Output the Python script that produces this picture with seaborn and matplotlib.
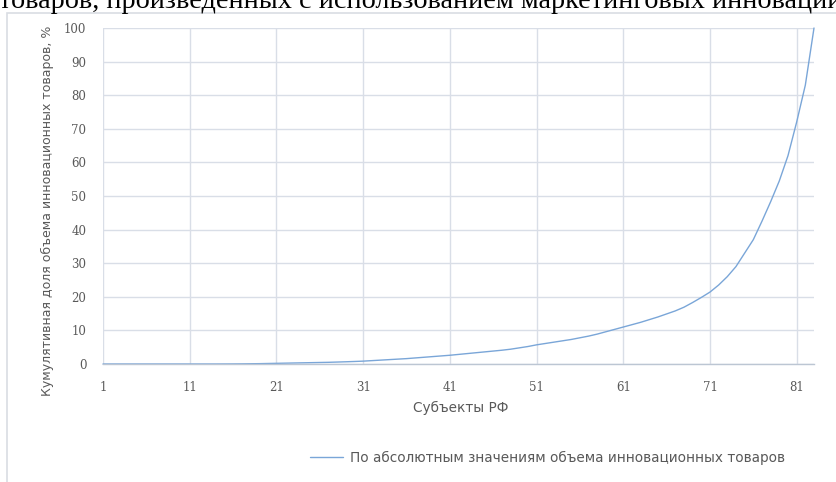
import numpy as np
import pandas as pd
import seaborn as sns
import matplotlib.pyplot as plt
from matplotlib.patches import Rectangle

# cumulative share of innovative goods volume by region (sorted), %
subjects = list(range(1, 84))
cum_share = [
    0.0, 0.0, 0.0, 0.0, 0.0, 0.0, 0.0, 0.0, 0.0, 0.0,
    0.0, 0.0, 0.0, 0.0, 0.01, 0.02, 0.04, 0.07, 0.1, 0.15,
    0.2, 0.25, 0.3, 0.35, 0.4, 0.45, 0.5, 0.58, 0.66, 0.75,
    0.85, 1.0, 1.15, 1.3, 1.45, 1.6, 1.8, 2.0, 2.2, 2.4,
    2.6, 2.85, 3.1, 3.35, 3.6, 3.85, 4.1, 4.4, 4.8, 5.2,
    5.7, 6.1, 6.5, 6.9, 7.3, 7.8, 8.3, 8.9, 9.6, 10.3,
    11.0, 11.7, 12.4, 13.2, 14.0, 14.9, 15.8, 16.9, 18.3, 19.8,
    21.4, 23.5, 26.0, 29.0, 33.0, 37.0, 42.5, 48.3, 54.5, 62.0,
    72.0, 83.0, 100.0,
]
x_ticks = list(range(1, 84, 10))
y_ticks = list(range(0, 101, 10))

title_text = "товаров, произведенных с использованием маркетинговых инноваций"
x_label = "Субъекты РФ"
y_label = "Кумулятивная доля объема инновационных товаров, %"
series_name = "По абсолютным значениям объема инновационных товаров"

df = pd.DataFrame({"subject": subjects, "share": cum_share})

sns.set_style("white")
plt.rcParams['font.family'] = ['DejaVu Sans']

W, H = 837, 482
fig = plt.figure(figsize=(W / 100, H / 100), dpi=100)
ax = fig.add_axes([103 / W, 1 - 364 / H, (814 - 103) / W, (364 - 28) / H])

text_col = '#595959'
grid_col = '#d9dee7'
line_col = '#7aa6d8'

sns.lineplot(data=df, x="subject", y="share", ax=ax, color=line_col,
             linewidth=1.0, label=series_name, legend=False, clip_on=False)

ax.set_xlim(1, 83)
ax.set_ylim(0, 100)
ax.set_xticks(x_ticks)
ax.set_yticks(y_ticks)
ax.grid(True, color=grid_col, linewidth=1.0)
ax.set_axisbelow(True)
for side in ['top', 'right', 'left']:
    ax.spines[side].set_visible(False)
ax.spines['bottom'].set_color('#bcc6d3')
ax.spines['bottom'].set_linewidth(1.0)
ax.tick_params(length=0, pad=12, labelsize=8.5, labelcolor=text_col)
for lab in ax.get_xticklabels() + ax.get_yticklabels():
    lab.set_family('DejaVu Serif')
ax.set_xlabel("")
ax.set_ylabel("")

fig.text(461 / W, 1 - 408 / H, x_label, ha='center', va='center',
         fontsize=9.8, color=text_col)
fig.text(47 / W, 1 - 211 / H, y_label, ha='center', va='center',
         rotation=90, fontsize=9, color=text_col)

# legend below the plot
handles, labels = ax.get_legend_handles_labels()
fig.legend(handles, labels, loc='center left',
           bbox_to_anchor=(298 / W, 1 - 458 / H), frameon=False,
           fontsize=9.8, handlelength=2.4, handletextpad=0.5,
           labelcolor=text_col)

# chart frame and cut-off heading above it
fig.patches.append(Rectangle((7.5 / W, -0.01), 1.0, 1 - 13 / H + 0.01,
                             transform=fig.transFigure, fill=False,
                             edgecolor='#d9dde3', linewidth=1.2))
fig.text(-1 / W, 1 - 8 / H, title_text, ha='left', va='baseline',
         fontsize=20.3, family='Liberation Serif', color='black')

fig.savefig('out.png', dpi=100)
